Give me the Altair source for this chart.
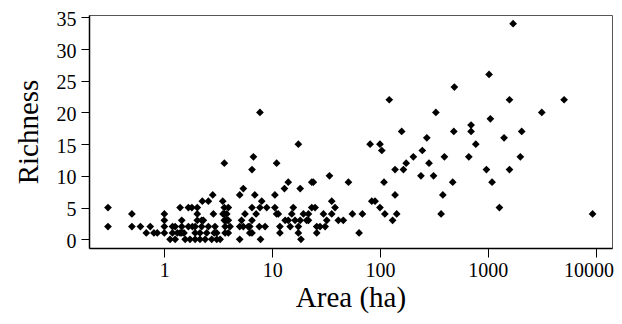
import altair as alt
import pandas as pd

# Area (ha) and species richness
area = [
    0.30, 0.30, 0.50, 0.50, 0.60, 0.68, 0.74, 0.80, 0.86,
    1.0, 1.0, 1.0, 1.0, 1.13, 1.26, 1.19, 1.19, 1.32, 1.40, 1.52,
    1.40, 1.45, 1.45, 1.45, 1.26, 1.67, 1.80, 2.02, 2.02, 2.02, 1.82,
    1.56, 1.73, 1.93, 2.14, 2.39, 2.75, 3.06, 1.93,
    1.67, 1.93, 2.22, 2.56, 2.95, 2.14, 2.47, 2.90, 3.06,
    2.25, 2.56, 2.30, 2.81, 2.85, 3.29, 3.48, 3.60, 3.60, 3.92, 3.60, 3.60, 3.80,
    3.66, 4.07, 2.22, 3.50, 3.79, 3.66, 3.92, 3.66, 3.92,
    5.0, 5.4, 5.0, 5.2, 5.6, 5.0, 5.4, 6.0, 6.2, 6.5, 6.7, 7.7, 6.9, 8.0,
    7.7, 8.9, 6.5, 7.1, 6.5, 6.2, 7.6, 8.6, 6.5, 7.8,
    11.0, 10.6, 10.6, 11.0, 11.4, 11.8, 11.8, 13.0, 14.1, 13.2, 14.1, 16.3,
    18.2, 20.9, 21.7, 14.7, 17.5, 15.7, 15.2, 19.5, 21.7, 17.5, 18.2, 17.5,
    18.5, 23.3, 24.1, 23.3, 25.0, 25.9, 25.9, 27.8, 31.0, 29.9, 32.1, 34.0,
    35.7, 38.3, 35.7, 41.1, 45.7, 51.0, 55.5, 64.0, 68.7,
    81, 100, 104, 84, 90, 100, 109, 111, 122, 131, 138, 138, 143, 159, 165,
    175, 204, 240, 247, 272, 285, 314, 330, 369, 383, 396, 473, 484, 490,
    667, 700, 700, 774, 971, 1028, 1057, 1096, 1282, 1416, 1590, 1590, 1718,
    2005, 2065, 3170, 5105, 9380,
]
richness = [
    5, 2, 4, 2, 2, 1, 2, 1, 1,
    4, 3, 2, 1, 0, 0, 2, 1, 1, 1, 1,
    5, 3, 2, 1, 2, 5, 5, 5, 4, 3, 2,
    0, 0, 0, 0, 0, 0, 0, 1,
    2, 2, 2, 2, 2, 1, 1, 1, 1,
    6, 6, 3, 7, 4, 0, 6, 12, 5, 5, 4, 3, 3,
    2, 2, 3, 4, 4, 3, 3, 1, 1,
    7, 8, 0, 3, 4, 2, 2, 2, 1, 11, 13, 20, 7, 6,
    5, 5, 5, 4, 3, 2, 2, 2, 1, 0,
    12, 7, 5, 4, 4, 1, 2, 8, 9, 3, 3, 3,
    3, 3, 3, 2, 2, 5, 4, 4, 4, 15, 8, 1,
    0, 9, 9, 5, 5, 1, 2, 2, 2, 4, 3, 10,
    6, 5, 4, 3, 3, 9, 4, 1, 4,
    15, 15, 14, 6, 6, 5, 9, 4, 22, 3, 11, 7, 4, 17, 11,
    12, 13, 10, 14, 16, 12, 10, 20, 4, 7, 13, 9, 17, 24,
    13, 18, 17, 15, 11, 26, 19, 9, 5, 16, 11, 22, 34,
    13, 17, 20, 22, 4,
]

x_ticks = [1, 10, 100, 1000, 10000]
y_ticks = [0, 5, 10, 15, 20, 25, 30, 35]

df = pd.DataFrame({"Area": area, "Richness": richness})

FONT = "Liberation Serif"

chart = (
    alt.Chart(df)
    .mark_point(shape="diamond", filled=True, color="black", size=60, opacity=1)
    .encode(
        x=alt.X(
            "Area:Q",
            scale=alt.Scale(type="log", domain=[0.2, 14200], nice=False),
            axis=alt.Axis(
                title="Area (ha)",
                values=x_ticks,
                format="d",
                grid=False,
                tickSize=9,
                labelPadding=3,
                titlePadding=3,
                labelOffset=alt.condition("datum.value == 10000", alt.value(-7), alt.value(0)),
            ),
        ),
        y=alt.Y(
            "Richness:Q",
            scale=alt.Scale(domain=[-1.37, 35.36], nice=False, zero=False),
            axis=alt.Axis(
                title="Richness",
                values=y_ticks,
                grid=False,
                tickSize=8,
                labelPadding=5,
                labelOffset=2,
                titlePadding=13,
            ),
        ),
    )
    .properties(
        width=523,
        height=233,
        autosize=alt.AutoSizeParams(type="none"),
        padding={"left": 81, "top": 7, "right": 2, "bottom": 68},
    )
    .configure_view(stroke="#555555", strokeWidth=1)
    .configure_axis(
        domainColor="black",
        domainWidth=1.5,
        tickColor="black",
        tickWidth=1,
        labelFont=FONT,
        labelFontSize=20,
        labelColor="black",
        titleFont=FONT,
        titleFontSize=29,
        titleFontWeight="normal",
        titleColor="black",
    )
)

chart.save("out.html", embed_options={"renderer": "svg", "actions": False})
